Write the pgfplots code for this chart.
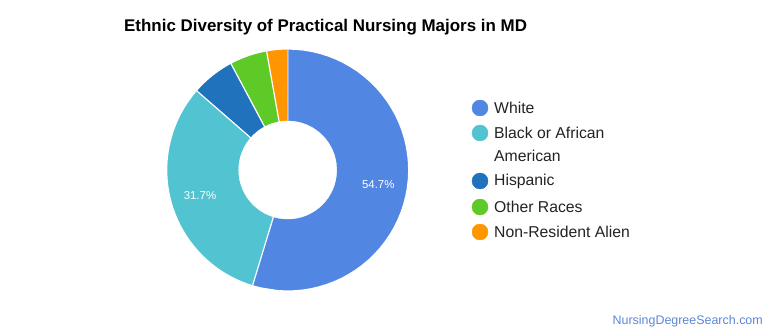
\documentclass[border=0pt]{standalone}
\usepackage{pgfplots}
\pgfplotsset{compat=1.18}
\usepackage{fontspec}
\setmainfont{Liberation Sans}
\definecolor{cWhite}{HTML}{5286E3}
\definecolor{cBlack}{HTML}{52C3D0}
\definecolor{cHisp}{HTML}{1F72BB}
\definecolor{cOther}{HTML}{5DCA28}
\definecolor{cNRA}{HTML}{FF9500}
\definecolor{cWM}{HTML}{5B86D6}
\definecolor{cTxt}{HTML}{222222}
% shares (percent)
\def\vWhite{54.7}
\def\vBlack{31.7}
\def\vHisp{5.8}
\def\vOther{5.0}
\def\vNRA{2.8}
\pgfmathsetmacro\aA{90}
\pgfmathsetmacro\aB{\aA-3.6*\vWhite}
\pgfmathsetmacro\aC{\aB-3.6*\vBlack}
\pgfmathsetmacro\aD{\aC-3.6*\vHisp}
\pgfmathsetmacro\aE{\aD-3.6*\vOther}
\pgfmathsetmacro\aF{\aE-3.6*\vNRA}
\newcommand{\slice}[3]{%
\addplot[fill=#1, draw=white, line width=1.2bp, line join=round, samples at={-1,0,0.02,...,0.96,0.98,1}, variable=\t]
 ({287.7+(\t<0 ? 0 : 121)*cos((#2)+((#3)-(#2))*max(\t,0))},
  {165+(\t<0 ? 0 : 121)*sin((#2)+((#3)-(#2))*max(\t,0))});
}
\begin{document}
\begin{tikzpicture}
\begin{axis}[scale only axis, width=770bp, height=335bp,
  xmin=0, xmax=770, ymin=0, ymax=335, axis lines=none, clip=false]
\path[draw=none] (rel axis cs:0,0) rectangle (rel axis cs:1,1);
\slice{cWhite}{\aA}{\aB}
\slice{cBlack}{\aB}{\aC}
\slice{cHisp}{\aC}{\aD}
\slice{cOther}{\aD}{\aE}
\slice{cNRA}{\aE}{\aF}
\addplot[only marks, mark=*, mark size=49bp, mark options={fill=white, draw=white}] coordinates {(287.7,165)};
\node[white, font=\fontsize{11.5}{14}\selectfont] at (axis cs:378.3,150) {54.7\%};
\node[white, font=\fontsize{11.5}{14}\selectfont] at (axis cs:200,139) {31.7\%};
% legend
\addplot[only marks, mark=*, mark size=8bp, cWhite] coordinates {(480,227)};
\addplot[only marks, mark=*, mark size=8bp, cBlack] coordinates {(480,202)};
\addplot[only marks, mark=*, mark size=8bp, cHisp] coordinates {(480,154)};
\addplot[only marks, mark=*, mark size=8bp, cOther] coordinates {(480,128)};
\addplot[only marks, mark=*, mark size=8bp, cNRA] coordinates {(480,103)};
\begin{scope}[every node/.style={anchor=west, text=cTxt, font=\fontsize{15.8}{18}\selectfont, inner sep=0pt}]
\node at (axis cs:494,227) {White};
\node at (axis cs:494,202) {Black or African};
\node at (axis cs:494,179) {American};
\node at (axis cs:494,154) {Hispanic};
\node at (axis cs:494,128) {Other Races};
\node at (axis cs:494,103) {Non-Resident Alien};
\end{scope}
\node[anchor=west, inner sep=0pt, text=black, font=\fontsize{17}{19}\selectfont\bfseries] at (axis cs:124,308) {Ethnic Diversity of Practical Nursing Majors in MD};
\node[anchor=east, inner sep=0pt, text=cWM, font=\fontsize{12.5}{15}\selectfont] at (axis cs:763,14) {NursingDegreeSearch.com};
\end{axis}
\end{tikzpicture}
\end{document}
